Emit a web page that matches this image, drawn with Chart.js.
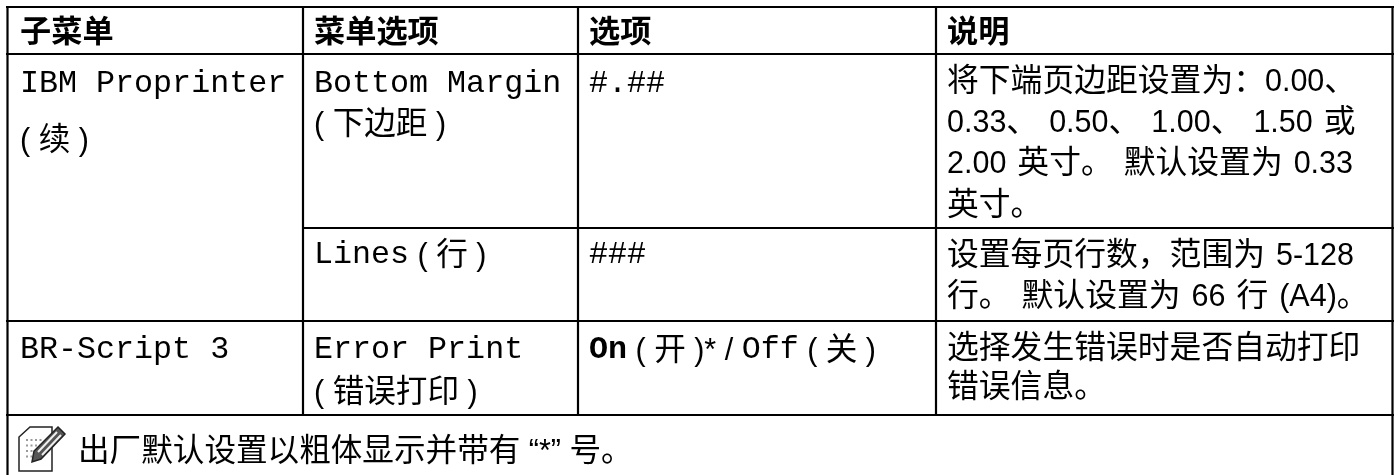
<!DOCTYPE html>
<html>
<head>
<meta charset="utf-8">
<script src="https://cdn.jsdelivr.net/npm/chart.js@4"></script>
<style>
    html, body { margin: 0; padding: 0; background: #fff; }
    canvas { display: block; }
</style>
</head>
<body>
<canvas id="tableChart" width="1400" height="475"></canvas>
<script>
// Table text, one array per column
const headers = ['子菜单', '菜单选项', '选项', '说明'];
const submenus = ['IBM Proprinter', '( 续 )', 'BR-Script 3'];
const menuOptions = ['Bottom Margin', '( 下边距 )', 'Lines ( 行 )', 'Error Print', '( 错误打印 )'];
const options = ['#.##', '###', 'On ( 开 )* / Off ( 关 )'];
const descriptions = [
    '将下端页边距设置为：0.00、',
    '0.33、 0.50、 1.00、 1.50 或',
    '2.00 英寸。 默认设置为 0.33',
    '英寸。',
    '设置每页行数，范围为 5-128',
    '行。 默认设置为 66 行 (A4)。',
    '选择发生错误时是否自动打印',
    '错误信息。'
];
const footnote = '出厂默认设置以粗体显示并带有 “*” 号。';
const boldWords = ['On'];

// Layout: table rules and text anchors, in scale units
const verticalRules = [[7.5, 6, 475], [303, 6, 415], [578, 6, 415], [936, 6, 415], [1392.5, 6, 475]];
const horizontalRules = [[7, 6, 1394], [54, 6, 1394], [228, 303, 1394], [321, 6, 1394], [415, 6, 1394]];
const headerX = [20, 314, 589, 947];
const headerY = 42;
const submenuY = [92, 148, 358];
const menuOptionY = [92, 132, 263, 358, 400];
const optionY = [92, 263, 358];
const descriptionY = [91, 132, 173, 215, 265, 306, 358, 397];
const footnoteAt = [78, 461];

const latinSans = '30.5px "Liberation Sans"';
const cjkSans = '31.6px "Noto Sans CJK SC"';
const cjkWide = '31.8px "Noto Sans CJK SC"';
const cjkBold = 'bold 31.2px "Noto Sans CJK SC"';
const monoFont = '31.7px "Liberation Mono"';
const monoBoldFont = 'bold 31.7px "Liberation Mono"';

// Sans text: CJK and latin stretches get different sizes
function sansRuns(text, cjkFont, dy) {
    return text.split(/([\u3000-\u303f\u4e00-\u9fff\uff00-\uffef]+)/)
        .filter(part => part.length)
        .map(part => [part, /^[\u3000-\u303f\u4e00-\u9fff\uff00-\uffef]/.test(part) ? cjkFont : latinSans, dy]);
}

// Column 1-3 text mixes mono latin with sans CJK; the sans sits a bit lower
function mixedRuns(text) {
    const runs = [];
    const pattern = /[A-Za-z0-9#.\-]+(?: [A-Za-z0-9#.\-]+)*/g;
    let last = 0, m;
    while ((m = pattern.exec(text)) !== null) {
        if (m.index > last) runs.push(...sansRuns(text.slice(last, m.index), cjkSans, 2));
        runs.push([m[0], boldWords.includes(m[0]) ? monoBoldFont : monoFont, 0]);
        last = m.index + m[0].length;
    }
    if (last < text.length) runs.push(...sansRuns(text.slice(last), cjkSans, 2));
    return runs;
}

// extraGap widens the spaces, used by the description column
function drawRuns(ctx, runs, x, y, extraGap = 0) {
    runs.forEach(([text, font, dy]) => {
        ctx.font = font;
        if (!extraGap) {
            ctx.fillText(text, x, y + dy);
            x += ctx.measureText(text).width;
            return;
        }
        text.split(/( )/).forEach(piece => {
            if (piece !== ' ') ctx.fillText(piece, x, y + dy);
            x += ctx.measureText(piece).width + (piece === ' ' ? extraGap : 0);
        });
    });
}

// The note-and-pencil icon in front of the footnote
function drawNoteIcon(ctx, x, y) {
    ctx.save();
    ctx.translate(x, y);
    ctx.strokeStyle = '#222';
    ctx.lineWidth = 1.5;
    ctx.fillStyle = '#fff';
    ctx.beginPath();
    ctx.moveTo(11, 1); ctx.lineTo(33, 1); ctx.lineTo(33, 45); ctx.lineTo(0, 45);
    ctx.lineTo(0, 11); ctx.closePath();
    ctx.fill(); ctx.stroke();
    ctx.fillStyle = '#999';
    for (let r = 0; r < 4; r++) {
        for (let c = 0; c < 4 - (r > 1 ? 1 : 0); c++) ctx.fillRect(7 + c * 4.5, 13 + r * 5.5, 2, 2);
    }
    ctx.fillStyle = '#555';
    ctx.beginPath();
    ctx.moveTo(39, 1); ctx.lineTo(46, 8); ctx.lineTo(22, 33); ctx.lineTo(13, 36);
    ctx.lineTo(15, 25); ctx.closePath();
    ctx.fill(); ctx.stroke();
    ctx.strokeStyle = '#eee';
    ctx.lineWidth = 2;
    ctx.beginPath();
    ctx.moveTo(38, 6); ctx.lineTo(19, 26);
    ctx.moveTo(42, 9); ctx.lineTo(23, 29);
    ctx.stroke();
    ctx.restore();
}

const tableText = {
    id: 'tableText',
    afterDatasetsDraw(chart) {
        const { ctx, scales } = chart;
        const px = v => scales.x.getPixelForValue(v);
        const py = v => scales.y.getPixelForValue(v);
        ctx.save();
        ctx.fillStyle = '#000';
        ctx.textBaseline = 'alphabetic';
        headers.forEach((h, i) => drawRuns(ctx, sansRuns(h, cjkBold, 0), px(headerX[i]), py(headerY)));
        submenus.forEach((t, i) => drawRuns(ctx, mixedRuns(t), px(headerX[0]), py(submenuY[i])));
        menuOptions.forEach((t, i) => drawRuns(ctx, mixedRuns(t), px(headerX[1]), py(menuOptionY[i])));
        options.forEach((t, i) => drawRuns(ctx, mixedRuns(t), px(headerX[2]), py(optionY[i])));
        descriptions.forEach((t, i) => drawRuns(ctx, sansRuns(t, cjkWide, 0), px(headerX[3]), py(descriptionY[i]), 2.5));
        drawRuns(ctx, sansRuns(footnote, cjkSans, 0), px(footnoteAt[0]), py(footnoteAt[1]));
        drawNoteIcon(ctx, px(19), py(426));
        ctx.restore();
    }
};

// Each table rule is a two-point line dataset
const ruleStyle = { showLine: true, borderColor: '#000', borderWidth: 2.2, pointRadius: 0, fill: false };
const ruleDatasets = [
    ...verticalRules.map(([x, y0, y1]) => ({ ...ruleStyle, data: [{ x, y: y0 }, { x, y: y1 }] })),
    ...horizontalRules.map(([y, x0, x1]) => ({ ...ruleStyle, data: [{ x: x0, y }, { x: x1, y }] }))
];

new Chart(document.getElementById('tableChart').getContext('2d'), {
    type: 'scatter',
    data: { datasets: ruleDatasets },
    options: {
        responsive: false,
        animation: false,
        layout: { padding: 0 },
        plugins: { legend: { display: false }, tooltip: { enabled: false } },
        scales: {
            x: { type: 'linear', display: false, min: 0, max: 1400 },
            y: { type: 'linear', display: false, min: 0, max: 475, reverse: true }
        }
    },
    plugins: [tableText]
});
</script>
</body>
</html>
